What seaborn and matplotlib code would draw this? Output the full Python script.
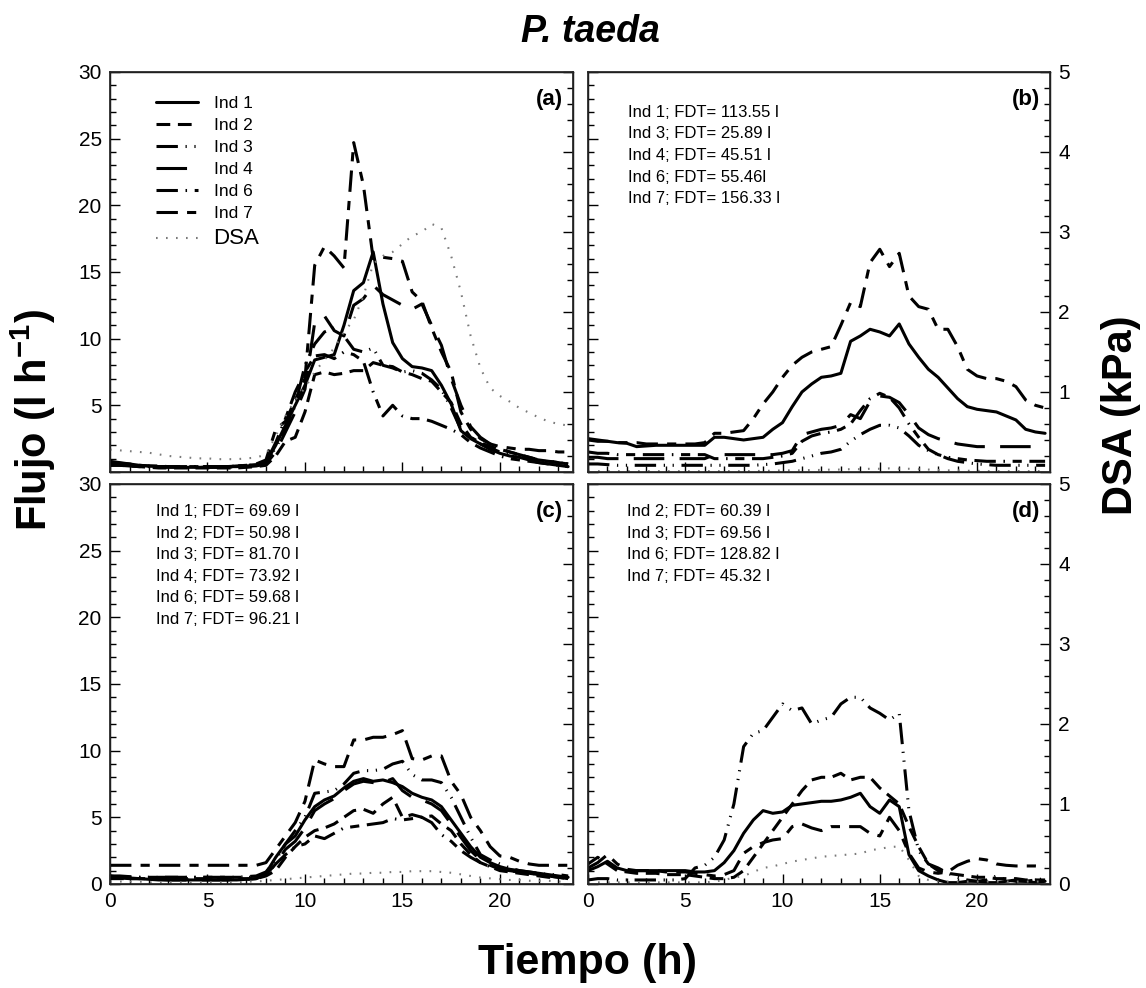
import matplotlib.pyplot as plt
import numpy as np
import pandas as pd
import seaborn as sns
from matplotlib.lines import Line2D
from matplotlib.ticker import MultipleLocator, FuncFormatter

# time axis, every half hour
hours = np.arange(0, 24, 0.5)

# ---- panel (a): flujo (l/h) and DSA (kPa) ----
a_ind1 = [0.8, 0.7, 0.6, 0.5, 0.45, 0.4, 0.4, 0.35,
          0.35, 0.35, 0.35, 0.35, 0.4, 0.4, 0.45, 0.5,
          0.7, 2.0, 3.5, 5.0, 6.5, 8.4, 8.6, 8.8,
          11.0, 13.6, 14.2, 16.5, 12.6, 9.7, 8.5, 7.9,
          7.8, 7.6, 6.5, 5.1, 3.1, 2.5, 2.1, 1.7,
          1.4, 1.2, 1.1, 0.9, 0.7, 0.6, 0.5, 0.4]
a_ind2 = [0.5, 0.5, 0.45, 0.4, 0.35, 0.3, 0.3, 0.3,
          0.3, 0.3, 0.3, 0.3, 0.3, 0.3, 0.35, 0.4,
          0.5, 1.2, 2.3, 2.6, 4.5, 7.3, 7.5, 7.3,
          7.4, 7.6, 7.6, 8.2, 8.0, 7.9, 7.5, 7.3,
          7.0, 6.8, 6.0, 5.2, 3.6, 2.6, 2.2, 1.9,
          1.7, 1.5, 1.3, 1.1, 0.9, 0.8, 0.7, 0.6]
a_ind3 = [0.6, 0.55, 0.5, 0.45, 0.4, 0.4, 0.4, 0.4,
          0.4, 0.4, 0.4, 0.4, 0.4, 0.45, 0.5, 0.55,
          0.8, 1.8, 3.2, 5.0, 8.0, 9.6, 10.5, 10.8,
          10.2, 9.2, 9.0, 9.3, 8.0, 7.8, 7.5, 7.6,
          7.4, 6.9, 6.2, 4.8, 3.2, 2.6, 2.1, 1.8,
          1.5, 1.3, 1.1, 1.0, 0.9, 0.8, 0.7, 0.6]
a_ind4 = [0.5, 0.5, 0.45, 0.4, 0.4, 0.35, 0.35, 0.35,
          0.35, 0.35, 0.35, 0.35, 0.35, 0.4, 0.4, 0.45,
          0.6, 1.5, 3.0, 4.5, 6.2, 11.2, 11.7, 10.6,
          10.2, 12.5, 13.0, 14.0, 13.3, 12.9, 12.5, 12.2,
          12.6, 11.0, 9.5, 7.0, 5.0, 3.4, 2.6, 2.1,
          1.8, 1.5, 1.3, 1.1, 0.9, 0.8, 0.7, 0.6]
a_ind6 = [0.6, 0.6, 0.55, 0.5, 0.45, 0.45, 0.4, 0.4,
          0.4, 0.4, 0.4, 0.4, 0.4, 0.45, 0.5, 0.55,
          0.7, 2.2, 4.0, 6.0, 7.5, 8.7, 8.8, 8.5,
          9.0, 8.8, 8.3, 6.0, 4.2, 5.0, 4.2, 4.0,
          4.0, 3.8, 3.5, 3.2, 2.8, 2.2, 1.8, 1.5,
          1.2, 1.0, 0.9, 0.8, 0.7, 0.6, 0.5, 0.4]
a_ind7 = [0.7, 0.65, 0.6, 0.5, 0.45, 0.4, 0.4, 0.4,
          0.4, 0.4, 0.4, 0.4, 0.4, 0.45, 0.5, 0.6,
          0.9, 3.2, 3.8, 5.4, 7.0, 15.5, 16.9, 16.2,
          15.3, 24.7, 21.5, 16.0, 16.1, 16.0, 15.8, 13.5,
          12.8, 10.8, 9.0, 7.5, 4.5, 3.2, 2.5, 2.1,
          1.9, 1.8, 1.7, 1.7, 1.6, 1.6, 1.5, 1.5]
a_dsa = [0.28, 0.27, 0.26, 0.25, 0.24, 0.22, 0.2, 0.19,
         0.18, 0.17, 0.17, 0.16, 0.16, 0.16, 0.17, 0.18,
         0.22, 0.45, 0.7, 0.9, 1.05, 1.25, 1.4, 1.55,
         1.75, 1.9, 2.2, 2.6, 2.7, 2.75, 2.85, 2.95,
         3.0, 3.1, 3.05, 2.7, 2.25, 1.7, 1.3, 1.05,
         0.95, 0.88, 0.8, 0.74, 0.68, 0.63, 0.6, 0.58]

# ---- panel (b) ----
b_ind1 = [2.4, 2.3, 2.3, 2.2, 2.15, 1.9, 1.95, 2.0,
          2.0, 2.0, 2.0, 2.0, 2.0, 2.6, 2.6, 2.5,
          2.4, 2.5, 2.6, 3.2, 3.7, 4.9, 6.0, 6.6,
          7.1, 7.2, 7.4, 9.8, 10.2, 10.7, 10.5, 10.2,
          11.1, 9.6, 8.6, 7.7, 7.1, 6.3, 5.5, 4.9,
          4.7, 4.6, 4.5, 4.2, 3.9, 3.2, 3.0, 2.9]
b_ind3 = [0.6, 0.6, 0.55, 0.5, 0.5, 0.5, 0.5, 0.5,
          0.5, 0.5, 0.5, 0.5, 0.5, 0.5, 0.5, 0.5,
          0.5, 0.5, 0.55, 0.6, 0.7, 0.8, 1.0, 1.2,
          1.4, 1.5, 1.7, 2.3, 2.8, 3.2, 3.5, 3.5,
          3.3, 2.7, 2.0, 1.6, 1.3, 1.0, 0.8, 0.7,
          0.6, 0.55, 0.5, 0.5, 0.5, 0.5, 0.5, 0.5]
b_ind4 = [1.1, 1.1, 1.0, 1.0, 1.0, 1.0, 1.0, 1.0,
          1.0, 1.0, 1.0, 1.0, 1.0, 1.3, 1.3, 1.3,
          1.3, 1.3, 1.3, 1.3, 1.4, 1.6, 2.8, 3.0,
          3.2, 3.3, 3.5, 4.3, 4.0, 5.3, 5.7, 5.6,
          5.2, 4.3, 3.3, 2.8, 2.5, 2.3, 2.1, 2.0,
          1.9, 1.9, 1.9, 1.9, 1.9, 1.9, 1.9, 1.9]
b_ind6 = [1.5, 1.4, 1.4, 1.3, 1.3, 1.3, 1.3, 1.3,
          1.3, 1.3, 1.3, 1.3, 1.3, 1.0, 1.0, 1.0,
          1.0, 1.0, 1.0, 1.1, 1.2, 1.4, 2.3, 2.7,
          2.9, 3.0, 3.2, 3.6, 4.6, 5.5, 5.9, 5.6,
          4.8, 3.6, 2.6, 1.7, 1.3, 1.1, 1.0, 0.9,
          0.85, 0.8, 0.8, 0.8, 0.8, 0.8, 0.8, 0.8]
b_ind7 = [2.5, 2.4, 2.3, 2.2, 2.2, 2.2, 2.1, 2.1,
          2.1, 2.1, 2.1, 2.1, 2.2, 2.9, 2.9, 3.0,
          3.1, 4.0, 5.1, 6.0, 7.1, 8.0, 8.6, 9.0,
          9.2, 9.4, 11.0, 12.7, 12.4, 15.7, 16.7, 15.4,
          16.4, 13.2, 12.4, 12.2, 10.7, 10.7, 9.4, 7.7,
          7.2, 7.0, 7.0, 6.8, 6.4, 5.4, 5.0, 4.8]
b_dsa = [0.01, 0.01, 0.01, 0.01, 0.01, 0.01, 0.01, 0.01,
         0.01, 0.01, 0.01, 0.01, 0.01, 0.01, 0.01, 0.01,
         0.01, 0.01, 0.015, 0.015, 0.02, 0.02, 0.02, 0.025,
         0.025, 0.03, 0.03, 0.035, 0.035, 0.04, 0.04, 0.045,
         0.04, 0.04, 0.035, 0.03, 0.025, 0.02, 0.02, 0.015,
         0.015, 0.01, 0.01, 0.01, 0.01, 0.01, 0.01, 0.01]

# ---- panel (c) ----
c_ind1 = [0.6, 0.5, 0.45, 0.4, 0.35, 0.3, 0.3, 0.3,
          0.3, 0.3, 0.3, 0.3, 0.3, 0.3, 0.35, 0.4,
          0.8, 2.0, 3.0, 3.6, 4.8, 5.8, 6.3, 6.6,
          7.2, 7.7, 7.9, 7.7, 7.8, 7.6, 7.3, 6.8,
          6.5, 6.3, 5.8, 4.8, 3.8, 2.8, 2.0, 1.6,
          1.3, 1.1, 1.0, 0.9, 0.8, 0.7, 0.6, 0.5]
c_ind2 = [0.4, 0.4, 0.4, 0.4, 0.4, 0.4, 0.4, 0.4,
          0.4, 0.4, 0.4, 0.4, 0.4, 0.4, 0.4, 0.4,
          0.6, 1.0, 2.0, 2.8, 3.5, 4.0, 4.2, 4.5,
          5.0, 5.5, 5.6, 5.3, 6.0, 6.5, 5.0, 5.2,
          5.0, 5.1, 4.5, 4.0, 3.0, 2.2, 1.6, 1.3,
          1.0, 0.9, 0.8, 0.7, 0.6, 0.5, 0.5, 0.4]
c_ind3 = [0.6, 0.6, 0.55, 0.5, 0.5, 0.5, 0.5, 0.5,
          0.5, 0.5, 0.5, 0.5, 0.5, 0.5, 0.55, 0.6,
          0.9, 1.8, 3.0, 4.0, 5.0, 6.8, 6.9, 7.0,
          7.5, 8.3, 8.5, 8.5, 8.6, 9.0, 9.2, 8.2,
          7.8, 7.8, 7.6, 6.5, 5.0, 3.5, 2.2, 1.8,
          1.5, 1.2, 1.0, 0.9, 0.8, 0.7, 0.7, 0.6]
c_ind4 = [0.5, 0.45, 0.4, 0.4, 0.35, 0.35, 0.3, 0.3,
          0.3, 0.3, 0.3, 0.3, 0.3, 0.35, 0.35, 0.4,
          0.7, 1.5, 2.6, 3.2, 4.2, 5.5, 6.0, 6.4,
          7.0, 7.5, 7.7, 7.6, 7.6, 7.9, 7.0, 6.5,
          6.3, 6.0, 5.5, 4.5, 3.5, 2.5, 1.8, 1.4,
          1.1, 1.0, 0.9, 0.8, 0.7, 0.6, 0.5, 0.4]
c_ind6 = [0.5, 0.5, 0.5, 0.5, 0.5, 0.5, 0.5, 0.5,
          0.5, 0.5, 0.5, 0.5, 0.5, 0.5, 0.5, 0.5,
          0.7, 1.5, 2.2, 2.8, 3.0, 3.6, 3.4, 3.8,
          4.2, 4.3, 4.4, 4.5, 4.6, 4.9, 4.8, 4.9,
          5.0, 4.6, 3.7, 3.2, 2.5, 2.0, 1.6, 1.3,
          1.1, 1.0, 0.9, 0.8, 0.7, 0.6, 0.5, 0.5]
c_ind7 = [1.4, 1.4, 1.4, 1.4, 1.4, 1.4, 1.4, 1.4,
          1.4, 1.4, 1.4, 1.4, 1.4, 1.4, 1.4, 1.4,
          1.6, 2.6, 3.6, 4.6, 6.2, 9.3, 9.0, 8.8,
          8.8, 10.8, 10.8, 11.0, 11.0, 11.2, 11.5, 9.4,
          9.3, 9.6, 9.6, 7.7, 6.7, 5.0, 4.0, 2.8,
          2.1, 2.0, 1.7, 1.5, 1.4, 1.4, 1.4, 1.4]
c_dsa = [0.03, 0.03, 0.03, 0.03, 0.02, 0.02, 0.02, 0.02,
         0.02, 0.02, 0.02, 0.02, 0.02, 0.02, 0.03, 0.03,
         0.04, 0.05, 0.06, 0.07, 0.08, 0.09, 0.1, 0.11,
         0.12, 0.13, 0.13, 0.14, 0.14, 0.15, 0.15, 0.16,
         0.16, 0.16, 0.15, 0.14, 0.12, 0.1, 0.08, 0.07,
         0.06, 0.05, 0.05, 0.04, 0.04, 0.04, 0.03, 0.03]

# ---- panel (d) ----
d_ind1 = [1.0, 1.3, 1.7, 1.2, 1.0, 1.0, 1.0, 1.0,
          1.0, 1.0, 1.0, 0.9, 0.9, 1.0, 1.6, 2.5,
          3.8, 4.8, 5.5, 5.3, 5.4, 5.9, 6.0, 6.1,
          6.2, 6.2, 6.3, 6.5, 6.8, 5.8, 5.3, 6.3,
          5.8, 2.2, 1.0, 0.6, 0.3, 0.1, 0.1, 0.2,
          0.2, 0.1, 0.1, 0.2, 0.3, 0.2, 0.1, 0.2]
d_ind2 = [1.5, 2.0, 1.5, 1.0, 0.9, 0.8, 0.8, 0.8,
          0.7, 0.7, 0.7, 0.6, 0.5, 0.4, 0.4, 0.5,
          1.0, 2.0, 3.0, 4.0, 5.0, 6.0, 7.0, 7.8,
          8.0, 8.0, 8.3, 7.8, 8.0, 8.0, 7.2, 6.6,
          6.0, 4.3, 2.8, 1.5, 1.0, 0.8, 0.7, 0.6,
          0.5, 0.5, 0.4, 0.4, 0.4, 0.3, 0.3, 0.3]
d_ind3 = [0.3, 0.4, 0.4, 0.3, 0.3, 0.3, 0.3, 0.3,
          0.3, 0.3, 0.4, 1.2, 1.4, 2.0, 3.3, 6.0,
          10.3, 11.3, 11.5, 12.5, 13.5, 13.0, 13.2, 12.0,
          12.3, 12.5, 13.5, 14.0, 14.0, 13.2, 12.8, 12.3,
          12.8, 5.5, 2.5, 1.5, 1.2, 0.8, 0.5, 0.3,
          0.2, 0.3, 0.6, 0.3, 0.2, 0.2, 0.3, 0.4]
d_ind7 = [1.2, 1.6, 2.2, 1.5, 1.1, 1.0, 1.0, 1.0,
          0.9, 0.9, 0.9, 0.8, 0.7, 0.6, 0.7, 1.0,
          2.3, 2.8, 3.1, 3.3, 3.4, 4.3, 4.5, 4.2,
          4.0, 4.3, 4.3, 4.3, 4.3, 3.8, 3.6, 5.0,
          4.0, 2.3, 1.2, 0.9, 0.8, 0.9, 1.4, 1.7,
          1.9, 1.8, 1.5, 1.4, 1.35, 1.35, 1.35, 1.3]
d_dsa = [0.02, 0.02, 0.02, 0.02, 0.02, 0.02, 0.02, 0.02,
         0.02, 0.02, 0.02, 0.02, 0.02, 0.03, 0.05, 0.08,
         0.1, 0.15, 0.2, 0.22, 0.25, 0.28, 0.3, 0.32,
         0.34, 0.35, 0.36, 0.37, 0.38, 0.42, 0.44, 0.46,
         0.47, 0.3, 0.1, 0.05, 0.03, 0.03, 0.03, 0.03,
         0.03, 0.03, 0.03, 0.03, 0.03, 0.03, 0.03, 0.03]

fdt_b = ['Ind 1; FDT= 113.55 l', 'Ind 3; FDT= 25.89 l', 'Ind 4; FDT= 45.51 l',
         'Ind 6; FDT= 55.46l', 'Ind 7; FDT= 156.33 l']
fdt_c = ['Ind 1; FDT= 69.69 l', 'Ind 2; FDT= 50.98 l', 'Ind 3; FDT= 81.70 l',
         'Ind 4; FDT= 73.92 l', 'Ind 6; FDT= 59.68 l', 'Ind 7; FDT= 96.21 l']
fdt_d = ['Ind 2; FDT= 60.39 l', 'Ind 3; FDT= 69.56 l', 'Ind 6; FDT= 128.82 l',
         'Ind 7; FDT= 45.32 l']

ind_dashes = {'Ind 1': '', 'Ind 2': (4.5, 2.5), 'Ind 3': (7, 2.5, 0.4, 2.5, 0.4, 2.5),
              'Ind 4': (10, 5), 'Ind 6': (7, 2.5, 0.5, 2.5, 3, 2.5), 'Ind 7': (7, 3, 3, 3)}
LW = 2.2
DSA_LS = (0, (0.8, 4))
DSA_COLOR = '#7a7a7a'

sns.set_theme(style='ticks')
plt.rcParams['font.family'] = ['Liberation Sans', 'DejaVu Sans']
plt.rcParams['mathtext.default'] = 'regular'
plt.rcParams['text.color'] = 'black'

fig = plt.figure(figsize=(11.46, 9.88), dpi=100)
ax_a = fig.add_axes([0.0960, 0.5223, 0.4040, 0.4049])
ax_b = fig.add_axes([0.5131, 0.5223, 0.4031, 0.4049])
ax_c = fig.add_axes([0.0960, 0.1053, 0.4040, 0.4049])
ax_d = fig.add_axes([0.5131, 0.1053, 0.4031, 0.4049])

# top panels leave out the "0" tick label
no_zero = FuncFormatter(lambda v, p: '' if v == 0 else f'{v:g}')


def panel(ax, series, dsa, tag, left_lab, right_lab, bottom_lab):
    rows = []
    for name, vals in series.items():
        rows.append(pd.DataFrame({'hora': hours, 'flujo': vals, 'ind': name}))
    df = pd.concat(rows)
    names = list(series.keys())
    sns.lineplot(data=df, x='hora', y='flujo', style='ind', style_order=names,
                 dashes={k: ind_dashes[k] for k in names}, color='black',
                 lw=LW, legend=False, errorbar=None, ax=ax)
    ax.set_xlim(0, 23.75)
    ax.set_ylim(0, 30)
    ax.set_xlabel('')
    ax.set_ylabel('')
    ax.xaxis.set_major_locator(MultipleLocator(5))
    ax.xaxis.set_minor_locator(MultipleLocator(1))
    ax.yaxis.set_major_locator(MultipleLocator(5))
    ax.yaxis.set_minor_locator(MultipleLocator(1))
    ax.tick_params(which='both', direction='in', top=False, right=False,
                   labelsize=15, colors='black', labelleft=left_lab,
                   labelbottom=bottom_lab, pad=6)
    ax.tick_params(which='major', length=7, width=1)
    ax.tick_params(which='minor', length=4, width=1)
    for s in ax.spines.values():
        s.set_linewidth(1.0)
        s.set_color('black')

    ax2 = ax.twinx()
    sns.lineplot(x=hours, y=dsa, color=DSA_COLOR, lw=1.5, linestyle=DSA_LS, ax=ax2)
    ax2.set_ylim(0, 5)
    ax2.set_ylabel('')
    ax2.yaxis.set_major_locator(MultipleLocator(1))
    ax2.yaxis.set_minor_locator(MultipleLocator(0.2))
    ax2.tick_params(which='both', direction='in', labelsize=15, colors='black',
                    labelright=right_lab, pad=6)
    ax2.tick_params(which='major', length=7, width=1)
    ax2.tick_params(which='minor', length=4, width=1)
    if not bottom_lab:
        ax.yaxis.set_major_formatter(no_zero)
        ax2.yaxis.set_major_formatter(no_zero)
    ax.text(0.978, 0.93, tag, transform=ax.transAxes, ha='right', va='center',
            fontsize=16, fontweight='bold')
    return ax2


panel(ax_a, {'Ind 1': a_ind1, 'Ind 2': a_ind2, 'Ind 3': a_ind3, 'Ind 4': a_ind4,
             'Ind 6': a_ind6, 'Ind 7': a_ind7}, a_dsa, '(a)', True, False, False)
panel(ax_b, {'Ind 1': b_ind1, 'Ind 3': b_ind3, 'Ind 4': b_ind4, 'Ind 6': b_ind6,
             'Ind 7': b_ind7}, b_dsa, '(b)', False, True, False)
panel(ax_c, {'Ind 1': c_ind1, 'Ind 2': c_ind2, 'Ind 3': c_ind3, 'Ind 4': c_ind4,
             'Ind 6': c_ind6, 'Ind 7': c_ind7}, c_dsa, '(c)', True, False, True)
panel(ax_d, {'Ind 1': d_ind1, 'Ind 2': d_ind2, 'Ind 3': d_ind3, 'Ind 7': d_ind7},
      d_dsa, '(d)', False, True, True)

# legend for panel (a)
handles = [Line2D([], [], color='black', lw=LW,
                  linestyle=(0, ind_dashes[k]) if ind_dashes[k] else '-')
           for k in ['Ind 1', 'Ind 2', 'Ind 3', 'Ind 4', 'Ind 6', 'Ind 7']]
handles.append(Line2D([], [], color=DSA_COLOR, lw=1.5, linestyle=DSA_LS))
labels = ['Ind 1', 'Ind 2', 'Ind 3', 'Ind 4', 'Ind 6', 'Ind 7', 'DSA']
leg = ax_a.legend(handles, labels, loc='upper left', bbox_to_anchor=(0.085, 0.958),
                  frameon=False, fontsize=12.5, handlelength=2.4, handletextpad=0.9,
                  labelspacing=0.4, borderaxespad=0)
leg.get_texts()[-1].set_fontsize(16)

# FDT notes
note_kw = dict(ha='left', va='top', fontsize=12, linespacing=1.55)
ax_b.text(0.087, 0.918, '\n'.join(fdt_b), transform=ax_b.transAxes, **note_kw)
ax_c.text(0.10, 0.95, '\n'.join(fdt_c), transform=ax_c.transAxes, **note_kw)
ax_d.text(0.084, 0.95, '\n'.join(fdt_d), transform=ax_d.transAxes, **note_kw)

fig.text(0.515, 0.968, 'P. taeda', ha='center', va='center', fontsize=27,
         fontweight='bold', fontstyle='italic')
fig.text(0.029, 0.575, r'Flujo (l h$^{-1}$)', rotation=90, ha='center', va='center',
         fontsize=30, fontweight='bold')
fig.text(0.978, 0.58, 'DSA (kPa)', rotation=90, ha='center', va='center',
         fontsize=30, fontweight='bold')
fig.text(0.513, 0.025, 'Tiempo (h)', ha='center', va='center', fontsize=31,
         fontweight='bold')

fig.savefig('out.png', dpi=100)
